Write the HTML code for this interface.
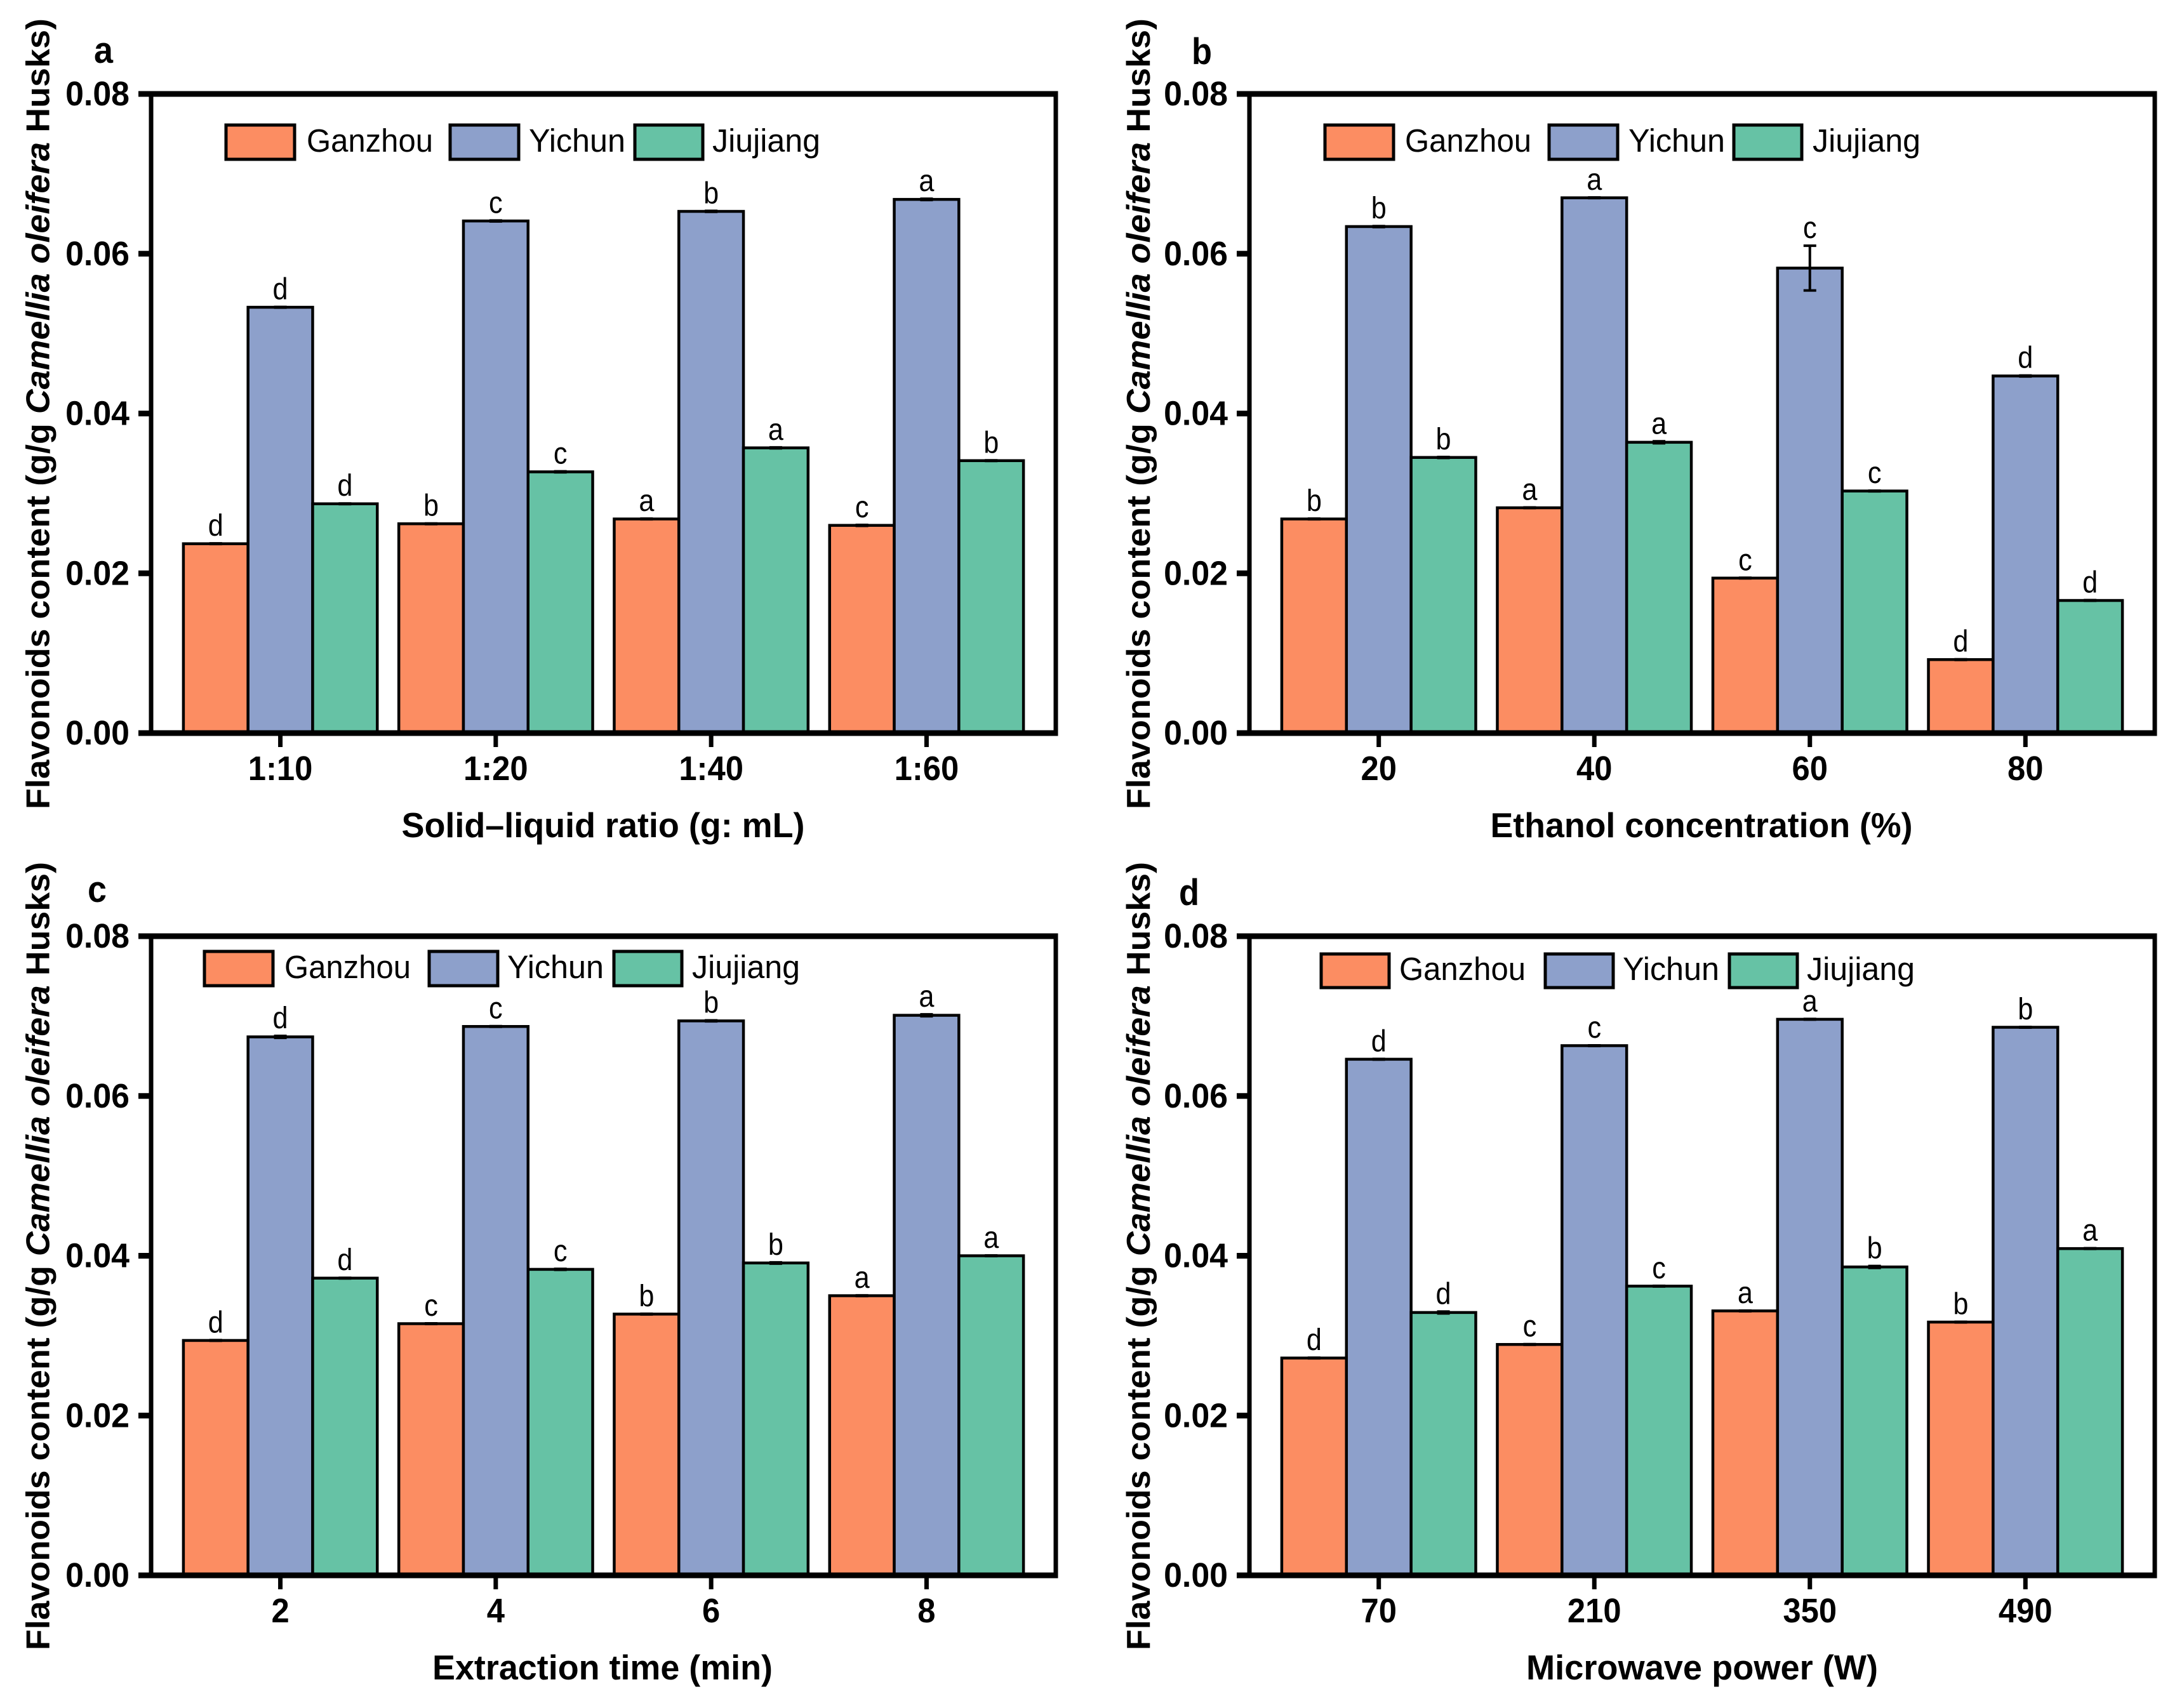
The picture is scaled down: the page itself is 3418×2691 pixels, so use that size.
<!DOCTYPE html>
<html lang="en">
<head>
<meta charset="utf-8">
<title>Flavonoids content of Camellia oleifera husks</title>
<style>
html,body{margin:0;padding:0;background:#fff;}
svg{display:block;font-family:"Liberation Sans",Arial,sans-serif;}
.ytitle{font-size:52px;font-weight:bold;fill:#000;}
.xtitle{font-size:55px;font-weight:bold;fill:#000;}
.letter{font-size:58px;font-weight:bold;fill:#000;}
.legtext{font-size:51px;fill:#000;}
.tick{font-size:54px;font-weight:bold;fill:#000;}
.sig{font-size:48px;fill:#000;}
.swatch{stroke:#000;stroke-width:5;}
</style>
</head>
<body>
<svg id="figure" xmlns="http://www.w3.org/2000/svg" width="3418" height="2691" viewBox="0 0 3418 2691">
<rect x="0" y="0" width="3418" height="2691" fill="#ffffff"/>

<g id="panel-a"></g>
<g id="panel-b"></g>
<g id="panel-c"></g>
<g id="panel-d"></g>

<!-- Panel a text -->
<text class="letter" x="148" y="99" textLength="30" lengthAdjust="spacingAndGlyphs">a</text>
<text class="ytitle" transform="translate(77.5,1275) rotate(-90)" textLength="1246" lengthAdjust="spacingAndGlyphs">Flavonoids content (g/g <tspan font-style="italic">Camellia oleifera</tspan> Husks)</text>
<text class="xtitle" x="950" y="1319" text-anchor="middle" textLength="635" lengthAdjust="spacingAndGlyphs">Solid–liquid ratio (g: mL)</text>
<g>
<rect class="swatch" x="356" y="197" width="108" height="54" fill="#FC8D62"/>
<text class="legtext" x="483" y="239" textLength="199" lengthAdjust="spacingAndGlyphs">Ganzhou</text>
<rect class="swatch" x="709" y="197" width="108" height="54" fill="#8DA0CB"/>
<text class="legtext" x="833" y="239" textLength="152" lengthAdjust="spacingAndGlyphs">Yichun</text>
<rect class="swatch" x="1000" y="197" width="107" height="54" fill="#66C2A5"/>
<text class="legtext" x="1122" y="239" textLength="170" lengthAdjust="spacingAndGlyphs">Jiujiang</text>
</g>

<!-- Panel b text -->
<text class="letter" x="1877" y="101" textLength="32" lengthAdjust="spacingAndGlyphs">b</text>
<text class="ytitle" transform="translate(1811,1275) rotate(-90)" textLength="1246" lengthAdjust="spacingAndGlyphs">Flavonoids content (g/g <tspan font-style="italic">Camellia oleifera</tspan> Husks)</text>
<text class="xtitle" x="2680" y="1319" text-anchor="middle" textLength="665" lengthAdjust="spacingAndGlyphs">Ethanol concentration (%)</text>
<g>
<rect class="swatch" x="2087" y="197" width="108" height="54" fill="#FC8D62"/>
<text class="legtext" x="2213" y="239" textLength="199" lengthAdjust="spacingAndGlyphs">Ganzhou</text>
<rect class="swatch" x="2440" y="197" width="108" height="54" fill="#8DA0CB"/>
<text class="legtext" x="2565" y="239" textLength="152" lengthAdjust="spacingAndGlyphs">Yichun</text>
<rect class="swatch" x="2731" y="197" width="107" height="54" fill="#66C2A5"/>
<text class="legtext" x="2855" y="239" textLength="170" lengthAdjust="spacingAndGlyphs">Jiujiang</text>
</g>

<!-- Panel c text -->
<text class="letter" x="138" y="1421" textLength="30" lengthAdjust="spacingAndGlyphs">c</text>
<text class="ytitle" transform="translate(77.5,2600) rotate(-90)" textLength="1242" lengthAdjust="spacingAndGlyphs">Flavonoids content (g/g <tspan font-style="italic">Camellia oleifera</tspan> Husks)</text>
<text class="xtitle" x="949" y="2646" text-anchor="middle" textLength="536" lengthAdjust="spacingAndGlyphs">Extraction time (min)</text>
<g>
<rect class="swatch" x="322" y="1499" width="108" height="54" fill="#FC8D62"/>
<text class="legtext" x="448" y="1541" textLength="199" lengthAdjust="spacingAndGlyphs">Ganzhou</text>
<rect class="swatch" x="676" y="1499" width="108" height="54" fill="#8DA0CB"/>
<text class="legtext" x="799" y="1541" textLength="152" lengthAdjust="spacingAndGlyphs">Yichun</text>
<rect class="swatch" x="967" y="1499" width="107" height="54" fill="#66C2A5"/>
<text class="legtext" x="1090" y="1541" textLength="170" lengthAdjust="spacingAndGlyphs">Jiujiang</text>
</g>

<!-- Panel d text -->
<text class="letter" x="1857" y="1426" textLength="32" lengthAdjust="spacingAndGlyphs">d</text>
<text class="ytitle" transform="translate(1811,2600) rotate(-90)" textLength="1242" lengthAdjust="spacingAndGlyphs">Flavonoids content (g/g <tspan font-style="italic">Camellia oleifera</tspan> Husks)</text>
<text class="xtitle" x="2681" y="2646" text-anchor="middle" textLength="554" lengthAdjust="spacingAndGlyphs">Microwave power (W)</text>
<g>
<rect class="swatch" x="2081" y="1503" width="107" height="53" fill="#FC8D62"/>
<text class="legtext" x="2204" y="1544" textLength="199" lengthAdjust="spacingAndGlyphs">Ganzhou</text>
<rect class="swatch" x="2434" y="1503" width="107" height="53" fill="#8DA0CB"/>
<text class="legtext" x="2556" y="1544" textLength="152" lengthAdjust="spacingAndGlyphs">Yichun</text>
<rect class="swatch" x="2724" y="1503" width="107" height="53" fill="#66C2A5"/>
<text class="legtext" x="2846" y="1544" textLength="170" lengthAdjust="spacingAndGlyphs">Jiujiang</text>
</g>
</svg>

<script>
// Shared axis values
const yTickValues = [0, 0.02, 0.04, 0.06, 0.08];
const yTickLabels = ['0.00', '0.02', '0.04', '0.06', '0.08'];
const yMax = 0.08;
const seriesNames = ['ganzhou', 'yichun', 'jiujiang'];

// Panel a
const aCategories = ['1:10', '1:20', '1:40', '1:60'];
const aGanzhou = [0.0237, 0.0262, 0.0268, 0.0260];
const aYichun = [0.0533, 0.0641, 0.0653, 0.0668];
const aJiujiang = [0.0287, 0.0327, 0.0357, 0.0341];
const aGanzhouErr = [0.00004, 0.00004, 0.00004, 0.00006];
const aYichunErr = [0.00004, 0.00006, 0.00006, 0.00008];
const aJiujiangErr = [0.00004, 0.00006, 0.00006, 0.00004];
const aGanzhouSig = ['d', 'b', 'a', 'c'];
const aYichunSig = ['d', 'c', 'b', 'a'];
const aJiujiangSig = ['d', 'c', 'a', 'b'];

// Panel b
const bCategories = ['20', '40', '60', '80'];
const bGanzhou = [0.0268, 0.0282, 0.0194, 0.0092];
const bYichun = [0.0634, 0.0670, 0.0582, 0.0447];
const bJiujiang = [0.0345, 0.0364, 0.0303, 0.0166];
const bGanzhouErr = [0.00004, 0.00004, 0.00004, 0.00004];
const bYichunErr = [0.00006, 0.00004, 0.0028, 0.00006];
const bJiujiangErr = [0.00006, 0.00012, 0.00004, 0.00004];
const bGanzhouSig = ['b', 'a', 'c', 'd'];
const bYichunSig = ['b', 'a', 'c', 'd'];
const bJiujiangSig = ['b', 'a', 'c', 'd'];

// Panel c
const cCategories = ['2', '4', '6', '8'];
const cGanzhou = [0.0294, 0.0315, 0.0327, 0.0350];
const cYichun = [0.0674, 0.0687, 0.0694, 0.0701];
const cJiujiang = [0.0372, 0.0383, 0.0391, 0.0400];
const cGanzhouErr = [0.00004, 0.00004, 0.00004, 0.00004];
const cYichunErr = [0.00012, 0.00004, 0.00006, 0.00012];
const cJiujiangErr = [0.00004, 0.00006, 0.00008, 0.00004];
const cGanzhouSig = ['d', 'c', 'b', 'a'];
const cYichunSig = ['d', 'c', 'b', 'a'];
const cJiujiangSig = ['d', 'c', 'b', 'a'];

// Panel d
const dCategories = ['70', '210', '350', '490'];
const dGanzhou = [0.0272, 0.0289, 0.0331, 0.0317];
const dYichun = [0.0646, 0.0663, 0.0696, 0.0686];
const dJiujiang = [0.0329, 0.0362, 0.0386, 0.0409];
const dGanzhouErr = [0.00004, 0.00004, 0.00004, 0.00004];
const dYichunErr = [0.00004, 0.00004, 0.00004, 0.00004];
const dJiujiangErr = [0.00012, 0.00004, 0.00012, 0.00004];
const dGanzhouSig = ['d', 'c', 'a', 'b'];
const dYichunSig = ['d', 'c', 'a', 'b'];
const dJiujiangSig = ['d', 'c', 'b', 'a'];

const fillColors = ['#FC8D62', '#8DA0CB', '#66C2A5'];
const SVG_NS = 'http://www.w3.org/2000/svg';

function make(parent, tag, attrs, text) {
  const el = document.createElementNS(SVG_NS, tag);
  for (const k in attrs) el.setAttribute(k, attrs[k]);
  if (text !== undefined) el.textContent = text;
  parent.appendChild(el);
  return el;
}

function squeeze(el, k) {
  el.setAttribute('textLength', el.getComputedTextLength() * k);
  el.setAttribute('lengthAdjust', 'spacingAndGlyphs');
}

function drawPanel(id, box, categories, values, errors, sigs) {
  const root = document.getElementById(id);
  const plotW = box.right - box.left;
  const plotH = box.bottom - box.top;
  const yScale = v => box.bottom - (v / yMax) * plotH;
  const unit = plotW / (categories.length + 0.2);
  const xCenter = i => box.left + (i + 0.6) * unit;
  const barW = unit * 0.3;

  values.forEach((series, s) => {
    series.forEach((v, i) => {
      const cx = xCenter(i) + (s - 1) * barW;
      const top = yScale(v);
      const bar = make(root, 'rect', {
        x: cx - barW / 2, y: top, width: barW, height: box.bottom - top,
        fill: fillColors[s], stroke: '#000', 'stroke-width': 4.5
      });
      
      
    });
  });

  values.forEach((series, s) => {
    series.forEach((v, i) => {
      const cx = xCenter(i) + (s - 1) * barW;
      const hi = yScale(v + errors[s][i]);
      const lo = yScale(v - errors[s][i]);
      const err = make(root, 'path', {
        d: 'M' + (cx - 10) + ' ' + hi + 'H' + (cx + 10) + 'M' + cx + ' ' + hi + 'V' + lo + 'M' + (cx - 10) + ' ' + lo + 'H' + (cx + 10),
        fill: 'none', stroke: '#000', 'stroke-width': 4
      });
      
      
      const sig = make(root, 'text', {
        class: 'sig', x: cx, y: hi - 12, 'text-anchor': 'middle'
      }, sigs[s][i]);
      
      
      squeeze(sig, 0.9);
    });
  });

  const hw = 9, vw = 7;
  const frame = make(root, 'path', {
    d: 'M' + (box.left - 20) + ' ' + box.top + 'H' + (box.right + vw / 2) +
       'M' + (box.left - 20) + ' ' + box.bottom + 'H' + (box.right + vw / 2),
    fill: 'none', stroke: '#000', 'stroke-width': hw
  });
  
  
  const frameV = make(root, 'path', {
    d: 'M' + box.left + ' ' + box.top + 'V' + box.bottom + 'M' + box.right + ' ' + box.top + 'V' + box.bottom,
    fill: 'none', stroke: '#000', 'stroke-width': vw
  });
  
  

  yTickValues.forEach((v, i) => {
    const y = yScale(v);
    const tick = make(root, 'path', {
      d: 'M' + (box.left - 20) + ' ' + y + 'H' + box.left,
      stroke: '#000', 'stroke-width': hw
    });
    
    
    const label = make(root, 'text', {
      class: 'tick', x: box.left - 34, y: y + 18, 'text-anchor': 'end'
    }, yTickLabels[i]);
    
    
    squeeze(label, 0.96);
  });

  categories.forEach((c, i) => {
    const x = xCenter(i);
    const tick = make(root, 'path', {
      d: 'M' + x + ' ' + box.bottom + 'V' + (box.bottom + 22),
      stroke: '#000', 'stroke-width': vw
    });
    
    
    const label = make(root, 'text', {
      class: 'tick', x: x, y: box.bottom + 74, 'text-anchor': 'middle'
    }, c);
    
    
    squeeze(label, 0.94);
  });
}

drawPanel('panel-a', {left: 238, right: 1663, top: 148, bottom: 1155}, aCategories,
  [aGanzhou, aYichun, aJiujiang], [aGanzhouErr, aYichunErr, aJiujiangErr], [aGanzhouSig, aYichunSig, aJiujiangSig]);
drawPanel('panel-b', {left: 1968, right: 3394, top: 148, bottom: 1155}, bCategories,
  [bGanzhou, bYichun, bJiujiang], [bGanzhouErr, bYichunErr, bJiujiangErr], [bGanzhouSig, bYichunSig, bJiujiangSig]);
drawPanel('panel-c', {left: 238, right: 1663, top: 1475, bottom: 2482}, cCategories,
  [cGanzhou, cYichun, cJiujiang], [cGanzhouErr, cYichunErr, cJiujiangErr], [cGanzhouSig, cYichunSig, cJiujiangSig]);
drawPanel('panel-d', {left: 1968, right: 3394, top: 1475, bottom: 2482}, dCategories,
  [dGanzhou, dYichun, dJiujiang], [dGanzhouErr, dYichunErr, dJiujiangErr], [dGanzhouSig, dYichunSig, dJiujiangSig]);
</script>
</body>
</html>
